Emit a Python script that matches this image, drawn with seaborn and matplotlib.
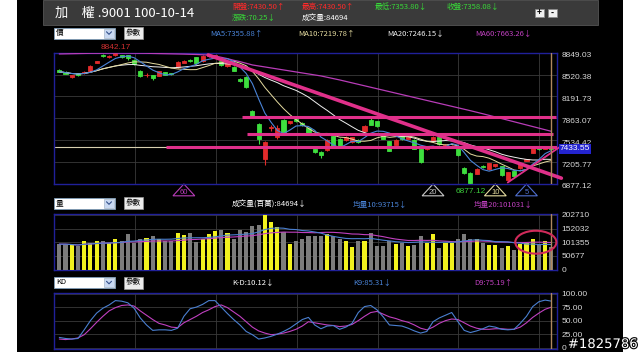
import numpy as np
import pandas as pd
import matplotlib
matplotlib.use("Agg")
import matplotlib.pyplot as plt
import matplotlib.patheffects as pe
import matplotlib.transforms as mtransforms
from matplotlib.patches import Rectangle, Polygon, Ellipse
import seaborn as sns

# ---------------- data ----------------
opens = [8590, 8560, 8480, 8540, 8540, 8580, 8700, 8820, 8780, 8810,
         8810, 8810, 8740, 8580, 8510, 8510, 8500, 8560, 8540, 8630,
         8700, 8740, 8780, 8720, 8800, 8790, 8720, 8650, 8640, 8450,
         8490, 7975, 7780, 7260, 7720, 7590, 7840, 7790, 7860, 7800,
         7720, 7400, 7360, 7390, 7600, 7560, 7540, 7510, 7540, 7670,
         7840, 7820, 7620, 7520, 7470, 7600, 7560, 7540, 7400, 7410,
         7520, 7580, 7450, 7430, 7400, 7120, 7040, 7030, 7150, 7100,
         7140, 7140, 6940, 7070, 7110, 7230, 7350, 7420, 7410, 7430]
closes = [8565, 8535, 8510, 8510, 8565, 8650, 8720, 8800, 8800, 8840,
          8780, 8770, 8680, 8500, 8520, 8470, 8570, 8520, 8530, 8710,
          8720, 8720, 8690, 8800, 8820, 8810, 8660, 8700, 8580, 8420,
          8330, 7890, 7560, 7510, 7730, 7720, 7650, 7820, 7820, 7760,
          7650, 7360, 7320, 7540, 7450, 7440, 7590, 7580, 7510, 7750,
          7770, 7750, 7560, 7380, 7540, 7550, 7590, 7410, 7210, 7430,
          7590, 7480, 7470, 7450, 7310, 7040, 6890, 7100, 7130, 7190,
          7170, 7010, 7050, 6990, 7170, 7250, 7420, 7400, 7430, 7400]
highs = [8600, 8570, 8520, 8550, 8575, 8660, 8730, 8830, 8810, 8842.17,
         8820, 8815, 8750, 8590, 8545, 8515, 8575, 8565, 8550, 8720,
         8740, 8750, 8790, 8810, 8830, 8820, 8725, 8705, 8650, 8470,
         8495, 7985, 7790, 7530, 7770, 7760, 7850, 7830, 7870, 7810,
         7730, 7410, 7370, 7550, 7610, 7570, 7600, 7590, 7550, 7760,
         7880, 7830, 7630, 7530, 7560, 7610, 7600, 7550, 7410, 7440,
         7600, 7590, 7480, 7460, 7410, 7130, 7050, 7110, 7160, 7200,
         7180, 7150, 7060, 7080, 7180, 7260, 7430, 7430, 7440, 7440]
lows = [8555, 8525, 8470, 8500, 8535, 8575, 8690, 8790, 8770, 8800,
        8770, 8740, 8670, 8490, 8490, 8440, 8495, 8510, 8520, 8625,
        8690, 8710, 8685, 8715, 8790, 8780, 8650, 8640, 8570, 8410,
        8320, 7880, 7480, 7165, 7680, 7560, 7640, 7780, 7810, 7750,
        7620, 7350, 7270, 7380, 7440, 7430, 7530, 7500, 7500, 7660,
        7760, 7740, 7550, 7370, 7460, 7540, 7550, 7400, 7200, 7390,
        7510, 7470, 7440, 7420, 7300, 7030, 6877.12, 7020, 7120, 7090,
        7130, 7000, 6930, 6980, 7100, 7220, 7340, 7390, 7400, 7390]
volumes = [94000, 94000, 90000, 86000, 105000, 100000, 107000, 107000, 100000, 112000,
           107000, 131000, 99000, 115000, 118000, 123000, 112000, 105000, 105000, 135000,
           127000, 137000, 102000, 115000, 131000, 143000, 147000, 135000, 115000, 147000,
           139000, 161000, 164000, 201000, 176000, 156000, 139000, 94000, 105000, 112000,
           122500, 122500, 122500, 130000, 125000, 115000, 105000, 84000, 107500, 107500,
           135000, 89000, 89000, 105000, 95000, 100000, 89000, 92500, 122500, 100000,
           130000, 81000, 100000, 100000, 112500, 132500, 112500, 115000, 100000, 90000,
           90000, 80000, 89000, 72500, 96000, 100000, 112500, 96000, 107500, 85000]
ma60 = [8830, 8832, 8834, 8836, 8838, 8840, 8840, 8841, 8842, 8843,
        8843, 8843, 8842, 8841, 8840, 8838, 8836, 8834, 8832, 8830,
        8828, 8825, 8822, 8818, 8814, 8800, 8780, 8760, 8735, 8715,
        8690, 8665, 8650, 8635, 8620, 8605, 8590, 8575, 8560, 8545,
        8530, 8515, 8500, 8480, 8460, 8440, 8418, 8396, 8374, 8352,
        8330, 8308, 8286, 8264, 8242, 8220, 8198, 8176, 8154, 8132,
        8110, 8088, 8066, 8044, 8022, 8000, 7978, 7955, 7932, 7908,
        7884, 7860, 7836, 7812, 7788, 7764, 7740, 7716, 7692, 7668]
k9 = [19, 17, 16, 17, 33, 50, 64, 73, 79, 87, 86, 83, 73, 55, 42, 32, 33, 33, 32, 36,
      58, 72, 75, 80, 87, 87, 75, 63, 52, 42, 30, 24, 16, 18, 21, 25, 30, 36, 44, 52,
      56, 42, 35, 40, 41, 34, 38, 45, 65, 76, 78, 70, 57, 42, 41, 40, 36, 31, 27, 30,
      48, 55, 60, 65, 48, 32, 28, 31, 35, 40, 38, 34, 33, 34, 45, 58, 76, 85, 88, 86]
d9 = [16, 15, 16, 18, 24, 35, 47, 58, 68, 74, 78, 79, 77, 68, 60, 52, 45, 42, 38, 37,
      46, 52, 58, 65, 70, 76, 79, 74, 66, 58, 48, 38, 31, 27, 24, 25, 27, 30, 34, 40,
      48, 46, 44, 42, 41, 39, 40, 43, 50, 58, 65, 67, 62, 57, 54, 50, 47, 42, 36, 33,
      38, 45, 50, 53, 52, 46, 40, 36, 34, 34, 35, 35, 34, 34, 38, 46, 56, 64, 71, 75]

price_ticks = [6877.12, 7205.77, 7534.42, 7863.07, 8191.73, 8520.38, 8849.03]
price_tick_labels = ["6877.12", "7205.77", "7534.42", "7863.07", "8191.73", "8520.38", "8849.03"]
vol_ticks = [0, 50677, 101355, 152032, 202710]
vol_tick_labels = ["0", "50677", "101355", "152032", "202710"]
kd_ticks = [0, 25, 50, 75, 100]
kd_tick_labels = ["0", "25.00", "50.00", "75.00", "100.00"]
month_starts = [12.15, 25.1, 38.1, 51.1, 64.0, 77.0]
ma_marker_bars = [20, 60, 70, 75]
ma_marker_labels = ["60", "20", "10", "5"]
last_price = 7433.55
high_mark = (9, 8842.17)
low_mark = (66, 6877.12)
# drawn trend / support lines (x in bars, y in points)
trend_down = ([23.9, 80.6], [8815, 6965])
trend_up = ([72, 80.3], [6900, 7430])
support_lines = [(29.3, 79.7, 7880), (30.2, 79.3, 7625), (17.2, 80.3, 7430)]

# ---------------- frame ----------------
W, H = 640, 352
BLACK = "#000000"
RED = "#e32b2b"
GREEN = "#3ede3e"
YEL = "#f2f21e"
GREY = "#7c7c7c"
PINK = "#e0308a"
C_MA5 = "#4a84d8"
C_MA10 = "#e6dca0"
C_MA20 = "#f0f0f0"
C_MA60 = "#b83cb8"
NAVY = "#20209a"
GRID = "#3a3a3a"
TXT = "#d8d8d8"

sns.set_theme(style="dark")
plt.rcParams["font.family"] = ["Noto Sans CJK TC", "DejaVu Sans"]
plt.rcParams["axes.unicode_minus"] = False

fig = plt.figure(figsize=(6.4, 3.52), dpi=100, facecolor="white")


def box(x0, y0, x1, y1):
    return [x0 / W, 1 - y1 / H, (x1 - x0) / W, (y1 - y0) / H]


# background
bg = fig.add_axes([0, 0, 1, 1], zorder=-5)
bg.set_xlim(0, W)
bg.set_ylim(H, 0)
bg.axis("off")
bg.add_patch(Rectangle((17, 0), 606, H, fc=BLACK, ec="none"))
bg.add_patch(Rectangle((43, 0), 555, 25, fc="#3a3a3a", ec="#555555", lw=0.6))

idx = np.arange(len(closes))
df = pd.DataFrame({"i": idx, "o": opens, "c": closes, "h": highs, "l": lows,
                   "v": volumes, "ma60": ma60, "k": k9, "d": d9})
df["up"] = np.where(df["c"] >= df["o"], "up", "down")
df["ma5"] = df["c"].rolling(5, min_periods=1).mean()
df["ma10"] = df["c"].rolling(10, min_periods=1).mean()
df["ma20"] = df["c"].rolling(20, min_periods=1).mean()
df["v10"] = df["v"].rolling(10, min_periods=1).mean()
df["v20"] = df["v"].rolling(20, min_periods=1).mean()

XL = (-0.85, 79.9)


def style_axis(ax, ticks, labels, ylim):
    ax.set_facecolor(BLACK)
    ax.set_xlim(*XL)
    ax.set_ylim(*ylim)
    ax.set_xticks(month_starts)
    ax.set_xticklabels([])
    ax.set_yticks(ticks)
    ax.set_yticklabels(labels)
    ax.yaxis.tick_right()
    ax.tick_params(axis="both", length=0, pad=3, labelsize=6, labelcolor=TXT)
    for lbl in ax.get_yticklabels():
        lbl.set_fontfamily(["Liberation Sans", "DejaVu Sans"])
    ax.grid(True, color=GRID, lw=0.6)
    for s in ax.spines.values():
        s.set_color(NAVY)
        s.set_linewidth(1.0)
        s.set_visible(True)
    ax.set_xlabel("")
    ax.set_ylabel("")


# ---------------- price panel ----------------
axp = fig.add_axes(box(54, 52.7, 557, 184))
cols = np.where(df["up"] == "up", RED, GREEN)
axp.vlines(df["i"], df["l"], df["h"], colors=cols, lw=0.8, zorder=3)
body_lo = np.minimum(df["o"], df["c"])
body_h = np.abs(df["c"] - df["o"])
axp.bar(df["i"], body_h, bottom=body_lo, width=0.66, color=cols, edgecolor=cols, lw=0.6, zorder=4)
axp.axhline(last_price, color="#d8d0b0", lw=0.8, zorder=2)
sns.lineplot(data=df, x="i", y="ma60", ax=axp, color=C_MA60, lw=0.9, zorder=5)
sns.lineplot(data=df, x="i", y="ma20", ax=axp, color=C_MA20, lw=0.7, zorder=5)
sns.lineplot(data=df, x="i", y="ma10", ax=axp, color=C_MA10, lw=0.7, zorder=5)
sns.lineplot(data=df, x="i", y="ma5", ax=axp, color=C_MA5, lw=0.8, zorder=5)
for x0, x1, yv in support_lines:
    axp.plot([x0, x1], [yv, yv], color=PINK, lw=2.2, zorder=6, solid_capstyle="butt")
axp.plot(*trend_down, color=PINK, lw=2.6, zorder=6, clip_on=False)
axp.plot(*trend_up, color=PINK, lw=1.3, zorder=6, clip_on=False)
axp.axvline(79, color="#b08860", lw=1.0, zorder=7)
style_axis(axp, price_ticks, price_tick_labels, (6877.12, 8849.03))
off = mtransforms.ScaledTranslation(0, -2 / 100, fig.dpi_scale_trans)
for lbl in axp.get_yticklabels():
    lbl.set_transform(lbl.get_transform() + off)
bt = mtransforms.blended_transform_factory(axp.transAxes, axp.transData)
axp.text(1.006, last_price, f"{last_price:.2f}", transform=bt + off, fontsize=6, color="white",
         va="center", ha="left", family=["Liberation Sans", "DejaVu Sans"],
         bbox=dict(fc="#2424d0", ec="none", pad=0.8), zorder=10, clip_on=False)
axp.text(high_mark[0], high_mark[1] + 90, f"{high_mark[1]:.2f}", color="#d03030", fontsize=6,
         ha="center", va="center", family=["Liberation Sans", "DejaVu Sans"], clip_on=False)
xt = mtransforms.blended_transform_factory(axp.transData, axp.transAxes)
axp.text(low_mark[0], -0.055, f"{low_mark[1]:.2f}", transform=xt, color="#3ccc3c", fontsize=6,
         ha="center", va="center", family=["Liberation Sans", "DejaVu Sans"], clip_on=False)
mk_cols = [C_MA60, "#c8c8c8", C_MA10, "#5070d0"]
for b, lab, cc in zip(ma_marker_bars, ma_marker_labels, mk_cols):
    tri = Polygon([(b - 1.75, -0.09), (b + 1.75, -0.09), (b, 0.0)], closed=True, fill=False,
                  ec=cc, lw=0.8, transform=xt, clip_on=False)
    axp.add_patch(tri)
    axp.text(b, -0.062, lab, transform=xt, color=cc, fontsize=5.5, ha="center", va="center",
             family=["Liberation Sans", "DejaVu Sans"], clip_on=False)

# ---------------- volume panel ----------------
axv = fig.add_axes(box(54, 214, 557, 269.5))
sns.barplot(data=df, x="i", y="v", hue="up", palette={"up": YEL, "down": GREY},
            native_scale=True, width=0.66, dodge=False, errorbar=None, legend=False,
            saturation=1, ax=axv, zorder=3, linewidth=0, edgecolor="none")
sns.lineplot(data=df, x="i", y="v20", ax=axv, color="#c040c0", lw=0.8, zorder=4)
sns.lineplot(data=df, x="i", y="v10", ax=axv, color="#4a7fd0", lw=0.8, zorder=4)
axv.axvline(79, color="#b08860", lw=1.0, zorder=5)
axv.add_patch(Ellipse((76.5, 101355), 6.6, 85000, fill=False, ec="#d02a5a", lw=1.5,
                      zorder=6, clip_on=False))
style_axis(axv, vol_ticks, vol_tick_labels, (0, 206000))

# ---------------- KD panel ----------------
axk = fig.add_axes(box(54, 292.5, 557, 348.5))
sns.lineplot(data=df, x="i", y="d", ax=axk, color="#c040c0", lw=0.8, zorder=4)
sns.lineplot(data=df, x="i", y="k", ax=axk, color="#4a7fd0", lw=0.8, zorder=4)
axk.axvline(79, color="#b08860", lw=1.0, zorder=5)
style_axis(axk, kd_ticks, kd_tick_labels, (-1.5, 102))

# ---------------- overlay texts ----------------
ov = fig.add_axes([0, 0, 1, 1], zorder=20)
ov.set_xlim(0, W)
ov.set_ylim(H, 0)
ov.axis("off")
ov.patch.set_alpha(0)
CJK = ["Noto Sans CJK TC", "DejaVu Sans"]


def t(x, y, s, c, fs=5.5, ha="left", **kw):
    ov.text(x, y, s, color=c, fontsize=fs, ha=ha, va="center", family=CJK, **kw)


t(55, 13.5, "加　權 .9001 100-10-14", "white", fs=9.5)
t(232, 6.5, "開盤:7430.50↑", "#ff2a2a")
t(302, 6.5, "最高:7430.50↑", "#ff2a2a")
t(375, 6.5, "最低:7353.80↓", "#38d838")
t(447, 6.5, "收盤:7358.08↓", "#38d838")
t(232, 17.5, "漲跌:70.25↓", "#38d838")
t(302, 17.5, "成交量:84694", "white")
for bx, s in [(535, "+"), (548, "-")]:
    ov.add_patch(Rectangle((bx, 9), 9, 8, fc="#f0f0f0", ec="#888888", lw=0.5))
    t(bx + 4.5, 13, s, "black", fs=6, ha="center", fontweight="bold")

t(210, 34, "MA5:7355.88↑", C_MA5)
t(298, 34, "MA10:7219.78↑", C_MA10)
t(387, 34, "MA20:7246.15↓", C_MA20)
t(475, 34, "MA60:7663.26↓", "#c040c0")

t(232, 204.5, "成交量(百萬):84694↓", "white")
t(353, 205, "均量10:93715↓", "#4a84d8")
t(474, 205, "均量20:101031↓", "#c040c0")

t(232, 282.5, "K-D:10.12↓", "white")
t(353, 282.5, "K9:85.31↓", "#4a84d8")
t(474, 282.5, "D9:75.19↑", "#c040c0")


def dropdown(y0, label):
    ov.add_patch(Rectangle((54, y0), 61, 11, fc="white", ec="#7f9db9", lw=0.6))
    ov.add_patch(Rectangle((104, y0 + 1), 10, 9, fc="#c9d9f2", ec="#9ab", lw=0.4))
    ov.plot([106.5, 109, 111.5], [y0 + 4.3, y0 + 6.8, y0 + 4.3], color="#34508a", lw=0.8)
    t(56, y0 + 5.5, label, "black", fs=5.5)
    ov.add_patch(Rectangle((124, y0 - 0.5), 19, 12, fc="#ececec", ec="#999999", lw=0.5))
    t(133.5, y0 + 5.5, "參數", "black", fs=5.5, ha="center")


dropdown(27.5, "價")
dropdown(197.5, "量")
dropdown(277, "KD")

ov.text(603, 344.5, "#1825786", color="white", fontsize=9.5, ha="center", va="center",
        family=["DejaVu Sans"],
        path_effects=[pe.withStroke(linewidth=1.6, foreground="black")])

fig.savefig("out.png", dpi=100, facecolor="white")
